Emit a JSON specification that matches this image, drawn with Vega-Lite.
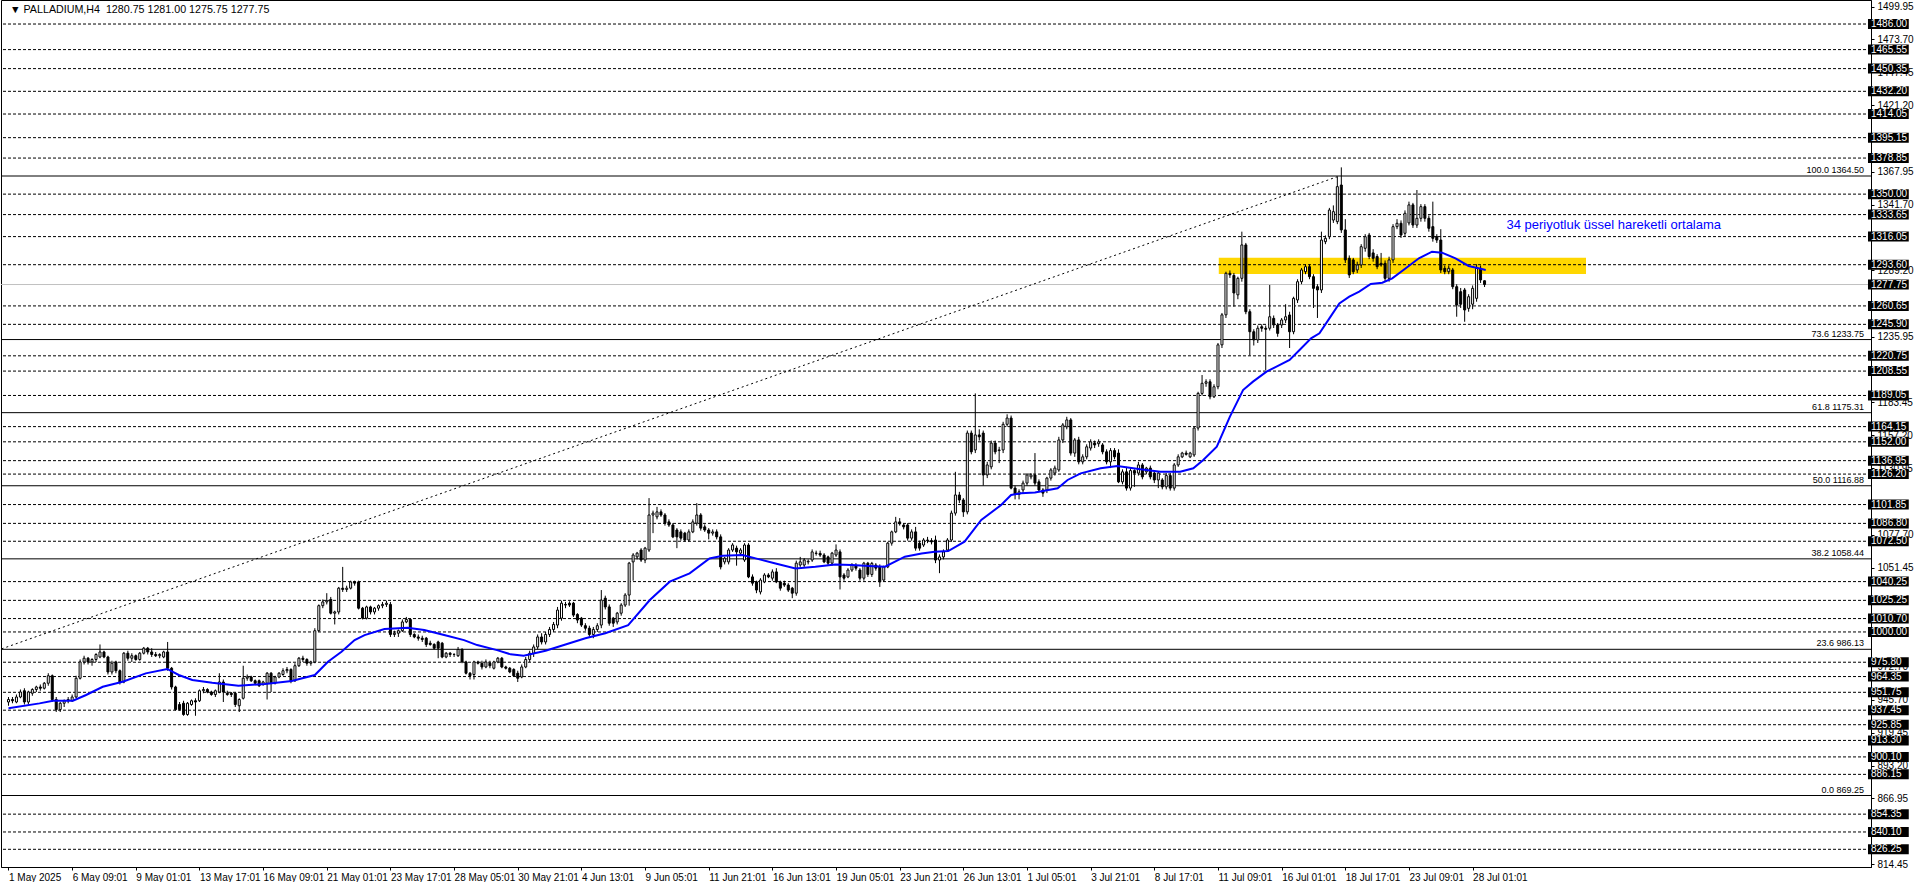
{
"$schema":"https://vega.github.io/schema/vega-lite/v6.json",
"width":1870,"height":867,"padding":0,"background":"white",
"config":{"view":{"stroke":"black","strokeWidth":1},"font":"Liberation Sans",
"axis":{"labelFont":"Liberation Sans","labelFontSize":10,"labelColor":"#000","domainColor":"#000","tickColor":"#000","tickSize":3,"grid":false,"labelOverlap":false,"labelFlush":false,"labelBound":false,"zindex":0},
"axisX":{"labelAlign":"left","labelPadding":2,"labelBaseline":"top"},
"axisY":{"labelPadding":3,"labelBaseline":"middle"}},
"datasets":{
"zone":[{"i1":304.2,"i2":396.5,"v1":1286.2,"v2":1299.2}],
"lv":[{"v":1486.00,"lab":"1486.00","k":"d"},{"v":1465.55,"lab":"1465.55","k":"d"},{"v":1450.35,"lab":"1450.35","k":"d"},{"v":1432.20,"lab":"1432.20","k":"d"},{"v":1414.05,"lab":"1414.05","k":"d"},{"v":1395.15,"lab":"1395.15","k":"d"},{"v":1378.85,"lab":"1378.85","k":"d"},{"v":1350.00,"lab":"1350.00","k":"d"},{"v":1333.65,"lab":"1333.65","k":"d"},{"v":1316.05,"lab":"1316.05","k":"d"},{"v":1293.60,"lab":"1293.60","k":"d"},{"v":1277.75,"lab":"1277.75","k":"p"},{"v":1260.65,"lab":"1260.65","k":"d"},{"v":1245.90,"lab":"1245.90","k":"d"},{"v":1220.75,"lab":"1220.75","k":"d"},{"v":1208.55,"lab":"1208.55","k":"d"},{"v":1189.05,"lab":"1189.05","k":"d"},{"v":1164.15,"lab":"1164.15","k":"d"},{"v":1152.00,"lab":"1152.00","k":"d"},{"v":1136.95,"lab":"1136.95","k":"d"},{"v":1126.20,"lab":"1126.20","k":"d"},{"v":1101.85,"lab":"1101.85","k":"d"},{"v":1086.80,"lab":"1086.80","k":"d"},{"v":1072.50,"lab":"1072.50","k":"d"},{"v":1040.25,"lab":"1040.25","k":"d"},{"v":1025.25,"lab":"1025.25","k":"d"},{"v":1010.70,"lab":"1010.70","k":"d"},{"v":1000.00,"lab":"1000.00","k":"d"},{"v":975.80,"lab":"975.80","k":"d"},{"v":964.35,"lab":"964.35","k":"d"},{"v":951.75,"lab":"951.75","k":"d"},{"v":937.45,"lab":"937.45","k":"d"},{"v":925.85,"lab":"925.85","k":"d"},{"v":913.30,"lab":"913.30","k":"d"},{"v":900.10,"lab":"900.10","k":"d"},{"v":886.15,"lab":"886.15","k":"d"},{"v":854.35,"lab":"854.35","k":"d"},{"v":840.10,"lab":"840.10","k":"d"},{"v":826.25,"lab":"826.25","k":"d"}],
"fib":[{"v":1364.50,"lab":"100.0 1364.50"},{"v":1233.75,"lab":"73.6 1233.75"},{"v":1175.31,"lab":"61.8 1175.31"},{"v":1116.88,"lab":"50.0 1116.88"},{"v":1058.44,"lab":"38.2 1058.44"},{"v":986.13,"lab":"23.6 986.13"},{"v":869.25,"lab":"0.0 869.25"}],
"trend":[{"i":-106,"v":869.25},{"i":334.5,"v":1364.5}],
"notes":[{"i":376.5,"v":1325.3,"t":"34 periyotluk üssel hareketli ortalama","k":"b"}],
"head":[{"i":0.375,"v":1497.2,"t":"▼ PALLADIUM,H4\u00a0 1280.75 1281.00 1275.75 1277.75"}],
"ma":[{"i":0,"v":939},{"i":7.8,"v":942.9},{"i":11.2,"v":945},{"i":16.2,"v":945},{"i":19.5,"v":949.6},{"i":23.7,"v":956.2},{"i":28.7,"v":960.2},{"i":34.5,"v":966.9},{"i":39.9,"v":970.4},{"i":42.8,"v":965.6},{"i":46.2,"v":961.6},{"i":51.2,"v":959.4},{"i":57.8,"v":957},{"i":64.5,"v":958.4},{"i":71.2,"v":960.8},{"i":77,"v":965.6},{"i":80.3,"v":976.2},{"i":83.7,"v":984.2},{"i":87,"v":993.5},{"i":89.5,"v":997.5},{"i":94.5,"v":1002.3},{"i":100.3,"v":1003.4},{"i":104.5,"v":1001.5},{"i":109.5,"v":997.5},{"i":114.5,"v":993.5},{"i":117.8,"v":989.5},{"i":122.8,"v":985.5},{"i":126.2,"v":982.1},{"i":129.5,"v":981},{"i":135,"v":985},{"i":140,"v":990},{"i":145,"v":995},{"i":150,"v":999},{"i":155.75,"v":1005.5},{"i":161.2,"v":1025.5},{"i":166.2,"v":1040.2},{"i":171.2,"v":1046.8},{"i":176.2,"v":1058.8},{"i":179.5,"v":1061},{"i":184.5,"v":1061.5},{"i":187.8,"v":1058.8},{"i":192.8,"v":1054.8},{"i":197.8,"v":1050.8},{"i":202.8,"v":1052.2},{"i":207.8,"v":1054},{"i":212,"v":1053.5},{"i":216.2,"v":1052.7},{"i":220.3,"v":1052.2},{"i":225.3,"v":1060.2},{"i":229.5,"v":1062.8},{"i":232.8,"v":1064.2},{"i":236.2,"v":1064.7},{"i":240.3,"v":1072.2},{"i":244.5,"v":1089.5},{"i":249.5,"v":1101.5},{"i":252,"v":1109.5},{"i":254.5,"v":1110.8},{"i":258,"v":1111.5},{"i":263.7,"v":1114.8},{"i":266.2,"v":1121.5},{"i":269.5,"v":1126.8},{"i":274.5,"v":1130.8},{"i":278.7,"v":1132.7},{"i":284.5,"v":1130},{"i":289.5,"v":1128.1},{"i":294.5,"v":1128.1},{"i":297.8,"v":1130.8},{"i":300.3,"v":1137.5},{"i":303.7,"v":1148.1},{"i":307,"v":1172.1},{"i":310.3,"v":1193.4},{"i":312.8,"v":1200.1},{"i":316.2,"v":1208.1},{"i":318.7,"v":1212.1},{"i":322,"v":1217.4},{"i":324.5,"v":1225.4},{"i":327.4,"v":1234.7},{"i":329.5,"v":1238.7},{"i":332,"v":1250.7},{"i":334.5,"v":1262.7},{"i":337,"v":1268.1},{"i":339.5,"v":1272.1},{"i":342.4,"v":1278.2},{"i":345.3,"v":1279.2},{"i":347.8,"v":1282.7},{"i":351.2,"v":1290.7},{"i":354.5,"v":1298.7},{"i":357.8,"v":1304},{"i":360.3,"v":1303.2},{"i":363.7,"v":1298.7},{"i":367,"v":1292.6},{"i":369.5,"v":1290.7},{"i":371.3,"v":1289.4}],
"cd":[
{"i":0,"o":944,"h":948,"l":941,"c":946},{"i":1,"o":946,"h":948,"l":943,"c":945},{"i":2,"o":944,"h":950,"l":943,"c":948},{"i":3,"o":948,"h":954,"l":947,"c":952},{"i":4,"o":953,"h":955,"l":942,"c":944},{"i":5,"o":944,"h":953,"l":942,"c":952},{"i":6,"o":951,"h":955,"l":949,"c":954},{"i":7,"o":954,"h":957,"l":952,"c":956},{"i":8,"o":956,"h":958,"l":953,"c":955},{"i":9,"o":955,"h":960,"l":954,"c":959},
{"i":10,"o":959,"h":967,"l":957,"c":965},{"i":11,"o":965,"h":966,"l":944,"c":946},{"i":12,"o":946,"h":948,"l":936,"c":938},{"i":13,"o":938,"h":944,"l":936,"c":943},{"i":14,"o":943,"h":946,"l":940,"c":945},{"i":15,"o":945,"h":948,"l":943,"c":946},{"i":16,"o":945,"h":950,"l":944,"c":948},{"i":17,"o":948,"h":965,"l":947,"c":963},{"i":18,"o":963,"h":978,"l":962,"c":976},{"i":19,"o":976,"h":981,"l":974,"c":979},
{"i":20,"o":979,"h":980,"l":974,"c":976},{"i":21,"o":976,"h":979,"l":973,"c":978},{"i":22,"o":978,"h":983,"l":976,"c":982},{"i":23,"o":980,"h":990,"l":979,"c":984},{"i":24,"o":984,"h":985,"l":979,"c":980},{"i":25,"o":980,"h":981,"l":966,"c":968},{"i":26,"o":968,"h":977,"l":966,"c":975},{"i":27,"o":976,"h":977,"l":967,"c":969},{"i":28,"o":969,"h":970,"l":958,"c":960},{"i":29,"o":960,"h":984,"l":959,"c":983},
{"i":30,"o":983,"h":985,"l":977,"c":979},{"i":31,"o":979,"h":983,"l":976,"c":981},{"i":32,"o":981,"h":982,"l":977,"c":978},{"i":33,"o":978,"h":984,"l":977,"c":983},{"i":34,"o":983,"h":988,"l":982,"c":987},{"i":35,"o":987,"h":988,"l":982,"c":984},{"i":36,"o":984,"h":987,"l":980,"c":982},{"i":37,"o":982,"h":984,"l":980,"c":981},{"i":38,"o":981,"h":983,"l":979,"c":982},{"i":39,"o":980,"h":985,"l":979,"c":984},
{"i":40,"o":984,"h":992,"l":969,"c":971},{"i":41,"o":971,"h":972,"l":954,"c":956},{"i":42,"o":956,"h":957,"l":937,"c":938},{"i":43,"o":942,"h":944,"l":937,"c":938},{"i":44,"o":943,"h":945,"l":933,"c":934},{"i":45,"o":934,"h":944,"l":933,"c":943},{"i":46,"o":942,"h":946,"l":941,"c":945},{"i":47,"o":945,"h":947,"l":933,"c":944},{"i":48,"o":945,"h":954,"l":944,"c":953},{"i":49,"o":953,"h":956,"l":951,"c":954},
{"i":50,"o":954,"h":955,"l":951,"c":952},{"i":51,"o":952,"h":953,"l":949,"c":950},{"i":52,"o":950,"h":954,"l":948,"c":953},{"i":53,"o":952,"h":967,"l":951,"c":960},{"i":54,"o":960,"h":962,"l":944,"c":952},{"i":55,"o":951,"h":953,"l":949,"c":950},{"i":56,"o":951,"h":952,"l":948,"c":950},{"i":57,"o":951,"h":952,"l":940,"c":942},{"i":58,"o":941,"h":947,"l":936,"c":946},{"i":59,"o":947,"h":973,"l":946,"c":963},
{"i":60,"o":963,"h":966,"l":961,"c":964},{"i":61,"o":964,"h":965,"l":960,"c":961},{"i":62,"o":961,"h":962,"l":958,"c":959},{"i":63,"o":961,"h":962,"l":956,"c":957},{"i":64,"o":958,"h":961,"l":957,"c":960},{"i":65,"o":959,"h":968,"l":946,"c":967},{"i":66,"o":967,"h":968,"l":952,"c":959},{"i":67,"o":959,"h":965,"l":958,"c":964},{"i":68,"o":964,"h":968,"l":963,"c":967},{"i":69,"o":966,"h":971,"l":965,"c":969},
{"i":70,"o":969,"h":972,"l":967,"c":970},{"i":71,"o":970,"h":971,"l":959,"c":961},{"i":72,"o":961,"h":975,"l":960,"c":973},{"i":73,"o":973,"h":980,"l":972,"c":979},{"i":74,"o":979,"h":981,"l":976,"c":978},{"i":75,"o":978,"h":979,"l":973,"c":975},{"i":76,"o":975,"h":977,"l":973,"c":976},{"i":77,"o":976,"h":1003,"l":975,"c":1001},{"i":78,"o":1001,"h":1022,"l":1000,"c":1021},{"i":79,"o":1021,"h":1026,"l":1019,"c":1024},
{"i":80,"o":1024,"h":1031,"l":1022,"c":1025},{"i":81,"o":1026,"h":1028,"l":1014,"c":1015},{"i":82,"o":1015,"h":1017,"l":1006,"c":1016},{"i":83,"o":1016,"h":1036,"l":1014,"c":1035},{"i":84,"o":1035,"h":1052,"l":1032,"c":1034},{"i":85,"o":1034,"h":1037,"l":1032,"c":1035},{"i":86,"o":1035,"h":1041,"l":1034,"c":1040},{"i":87,"o":1040,"h":1041,"l":1037,"c":1039},{"i":88,"o":1040,"h":1041,"l":1018,"c":1019},{"i":89,"o":1019,"h":1020,"l":1010,"c":1011},
{"i":90,"o":1011,"h":1021,"l":1010,"c":1020},{"i":91,"o":1020,"h":1021,"l":1014,"c":1016},{"i":92,"o":1016,"h":1020,"l":1014,"c":1019},{"i":93,"o":1019,"h":1022,"l":1017,"c":1021},{"i":94,"o":1021,"h":1024,"l":1019,"c":1022},{"i":95,"o":1022,"h":1025,"l":1020,"c":1023},{"i":96,"o":1022,"h":1024,"l":996,"c":998},{"i":97,"o":998,"h":1001,"l":996,"c":999},{"i":98,"o":999,"h":1002,"l":996,"c":1001},{"i":99,"o":1001,"h":1010,"l":1000,"c":1008},
{"i":100,"o":1008,"h":1012,"l":1007,"c":1010},{"i":101,"o":1010,"h":1011,"l":996,"c":998},{"i":102,"o":998,"h":999,"l":995,"c":996},{"i":103,"o":996,"h":998,"l":993,"c":995},{"i":104,"o":995,"h":997,"l":992,"c":994},{"i":105,"o":995,"h":996,"l":988,"c":990},{"i":106,"o":991,"h":993,"l":989,"c":990},{"i":107,"o":990,"h":991,"l":986,"c":987},{"i":108,"o":992,"h":993,"l":979,"c":987},{"i":109,"o":991,"h":992,"l":979,"c":980},
{"i":110,"o":980,"h":984,"l":979,"c":983},{"i":111,"o":983,"h":984,"l":980,"c":982},{"i":112,"o":982,"h":983,"l":980,"c":982},{"i":113,"o":981,"h":988,"l":980,"c":986},{"i":114,"o":986,"h":987,"l":975,"c":976},{"i":115,"o":976,"h":977,"l":966,"c":967},{"i":116,"o":967,"h":968,"l":962,"c":965},{"i":117,"o":966,"h":977,"l":962,"c":976},{"i":118,"o":976,"h":977,"l":974,"c":975},{"i":119,"o":975,"h":977,"l":970,"c":972},
{"i":120,"o":972,"h":978,"l":971,"c":976},{"i":121,"o":975,"h":977,"l":971,"c":973},{"i":122,"o":971,"h":977,"l":970,"c":976},{"i":123,"o":976,"h":980,"l":975,"c":979},{"i":124,"o":979,"h":980,"l":971,"c":972},{"i":125,"o":972,"h":973,"l":970,"c":971},{"i":126,"o":971,"h":972,"l":967,"c":968},{"i":127,"o":970,"h":971,"l":964,"c":965},{"i":128,"o":967,"h":969,"l":960,"c":963},{"i":129,"o":964,"h":974,"l":963,"c":972},
{"i":130,"o":972,"h":980,"l":971,"c":978},{"i":131,"o":978,"h":985,"l":976,"c":983},{"i":132,"o":983,"h":990,"l":980,"c":988},{"i":133,"o":988,"h":998,"l":986,"c":996},{"i":134,"o":996,"h":999,"l":990,"c":992},{"i":135,"o":992,"h":1000,"l":990,"c":998},{"i":136,"o":998,"h":1004,"l":996,"c":1002},{"i":137,"o":1002,"h":1008,"l":1000,"c":1006},{"i":138,"o":1005.5,"h":1020,"l":1003,"c":1017.5},{"i":139,"o":1011,"h":1025,"l":1009,"c":1023},
{"i":140,"o":1022,"h":1024,"l":1019,"c":1021.5},{"i":141,"o":1023,"h":1024.5,"l":1020,"c":1021.5},{"i":142,"o":1023,"h":1024,"l":1012,"c":1013.5},{"i":143,"o":1014,"h":1015,"l":1007,"c":1009.5},{"i":144,"o":1011,"h":1012,"l":1004,"c":1005.5},{"i":145,"o":1005,"h":1007,"l":1001,"c":1003},{"i":146,"o":1003,"h":1005,"l":996,"c":998},{"i":147,"o":998,"h":1004,"l":995,"c":1002},{"i":148,"o":1002,"h":1007,"l":1000,"c":1005},{"i":149,"o":1005.5,"h":1033.5,"l":1003,"c":1025.5},
{"i":150,"o":1027,"h":1029,"l":1018,"c":1020},{"i":151,"o":1020,"h":1022,"l":1005,"c":1007},{"i":152,"o":1011,"h":1012,"l":1004,"c":1007},{"i":153,"o":1008,"h":1016,"l":1006,"c":1015},{"i":154,"o":1015,"h":1023,"l":1013,"c":1021.5},{"i":155,"o":1021.5,"h":1031,"l":1020,"c":1029.5},{"i":156,"o":1029.5,"h":1056,"l":1021,"c":1055},{"i":157,"o":1056,"h":1063,"l":1041,"c":1061.5},{"i":158,"o":1060,"h":1064,"l":1058,"c":1063},{"i":159,"o":1065.5,"h":1067,"l":1056,"c":1057.5},
{"i":160,"o":1057.5,"h":1068,"l":1055,"c":1067},{"i":161,"o":1065.5,"h":1107,"l":1064,"c":1093.5},{"i":162,"o":1093.5,"h":1097,"l":1079,"c":1095},{"i":163,"o":1092,"h":1100,"l":1090,"c":1096},{"i":164,"o":1096,"h":1098,"l":1092,"c":1093.5},{"i":165,"o":1093.5,"h":1095,"l":1085,"c":1087},{"i":166,"o":1088,"h":1090,"l":1084,"c":1085.5},{"i":167,"o":1085.5,"h":1087,"l":1075,"c":1076},{"i":168,"o":1081.5,"h":1083,"l":1067,"c":1076},{"i":169,"o":1080,"h":1082,"l":1073,"c":1075},
{"i":170,"o":1079,"h":1080,"l":1072,"c":1073.5},{"i":171,"o":1073.5,"h":1082,"l":1072,"c":1080},{"i":172,"o":1080,"h":1090,"l":1079,"c":1088},{"i":173,"o":1087,"h":1103,"l":1085,"c":1093.5},{"i":174,"o":1093.5,"h":1095,"l":1081,"c":1083},{"i":175,"o":1084,"h":1086,"l":1080,"c":1081.5},{"i":176,"o":1081.5,"h":1083,"l":1074,"c":1079},{"i":177,"o":1079,"h":1082,"l":1077,"c":1080},{"i":178,"o":1080,"h":1082,"l":1074,"c":1076},{"i":179,"o":1076,"h":1078,"l":1050,"c":1052},
{"i":180,"o":1056,"h":1060,"l":1054,"c":1059},{"i":181,"o":1056,"h":1067,"l":1054,"c":1065.5},{"i":182,"o":1065.5,"h":1071,"l":1064,"c":1069.5},{"i":183,"o":1067,"h":1069,"l":1053,"c":1064},{"i":184,"o":1063,"h":1067,"l":1061,"c":1065.5},{"i":185,"o":1057.5,"h":1071,"l":1056,"c":1069.5},{"i":186,"o":1069.5,"h":1071,"l":1043,"c":1044},{"i":187,"o":1044,"h":1046,"l":1037,"c":1039},{"i":188,"o":1040,"h":1041,"l":1031,"c":1033.5},{"i":189,"o":1032,"h":1043,"l":1030,"c":1041.5},
{"i":190,"o":1040,"h":1047,"l":1039,"c":1045.5},{"i":191,"o":1045.5,"h":1047,"l":1043,"c":1044},{"i":192,"o":1043,"h":1050,"l":1041,"c":1048},{"i":193,"o":1048,"h":1051,"l":1039,"c":1040},{"i":194,"o":1040,"h":1041,"l":1033,"c":1035},{"i":195,"o":1039,"h":1041,"l":1036,"c":1037.5},{"i":196,"o":1037.5,"h":1039,"l":1032,"c":1033.5},{"i":197,"o":1035,"h":1036,"l":1027,"c":1031},{"i":198,"o":1031,"h":1057,"l":1029,"c":1055},{"i":199,"o":1053.5,"h":1060,"l":1052,"c":1056},
{"i":200,"o":1053.5,"h":1059,"l":1052,"c":1057.5},{"i":201,"o":1056,"h":1058,"l":1054,"c":1056.5},{"i":202,"o":1057.5,"h":1066,"l":1056,"c":1064},{"i":203,"o":1063,"h":1065,"l":1061,"c":1062.8},{"i":204,"o":1062.8,"h":1065,"l":1060,"c":1061.5},{"i":205,"o":1061.5,"h":1063,"l":1055,"c":1056},{"i":206,"o":1060,"h":1061,"l":1053,"c":1055},{"i":207,"o":1055,"h":1064,"l":1053,"c":1063},{"i":208,"o":1061.5,"h":1070,"l":1060,"c":1065.5},{"i":209,"o":1064,"h":1066,"l":1034,"c":1044},
{"i":210,"o":1045.5,"h":1047,"l":1041,"c":1043},{"i":211,"o":1044,"h":1051,"l":1043,"c":1049.5},{"i":212,"o":1049.5,"h":1055,"l":1048,"c":1053.5},{"i":213,"o":1053,"h":1055,"l":1049,"c":1051},{"i":214,"o":1049.5,"h":1051,"l":1041,"c":1043},{"i":215,"o":1043,"h":1056,"l":1041,"c":1055},{"i":216,"o":1055,"h":1056,"l":1044,"c":1046},{"i":217,"o":1046,"h":1056,"l":1044,"c":1054.8},{"i":218,"o":1053.5,"h":1055,"l":1049,"c":1051},{"i":219,"o":1052,"h":1054,"l":1036,"c":1040},
{"i":220,"o":1041.5,"h":1053,"l":1040,"c":1052},{"i":221,"o":1052,"h":1072,"l":1051,"c":1071},{"i":222,"o":1071,"h":1081,"l":1069,"c":1080},{"i":223,"o":1080,"h":1092,"l":1079,"c":1088},{"i":224,"o":1088,"h":1091,"l":1085,"c":1086.5},{"i":225,"o":1085.5,"h":1087,"l":1082,"c":1084},{"i":226,"o":1085.5,"h":1087,"l":1073,"c":1075},{"i":227,"o":1075,"h":1082,"l":1073,"c":1080},{"i":228,"o":1080,"h":1084,"l":1065,"c":1067},{"i":229,"o":1071,"h":1073,"l":1065,"c":1067},
{"i":230,"o":1069.5,"h":1075,"l":1068,"c":1073.5},{"i":231,"o":1073.5,"h":1076,"l":1071,"c":1073},{"i":232,"o":1073,"h":1075,"l":1070,"c":1072},{"i":233,"o":1073.5,"h":1077,"l":1055,"c":1057.5},{"i":234,"o":1057.5,"h":1062,"l":1047,"c":1060},{"i":235,"o":1060,"h":1066,"l":1058,"c":1064},{"i":236,"o":1065.5,"h":1075,"l":1064,"c":1073.5},{"i":237,"o":1073.5,"h":1097,"l":1072,"c":1095},{"i":238,"o":1095,"h":1128,"l":1093,"c":1109.5},{"i":239,"o":1109.5,"h":1112,"l":1103,"c":1105.5},
{"i":240,"o":1105.5,"h":1107,"l":1092,"c":1096},{"i":241,"o":1096,"h":1161,"l":1094,"c":1159},{"i":242,"o":1159,"h":1161,"l":1142,"c":1144},{"i":243,"o":1145.5,"h":1190.7,"l":1143,"c":1157.5},{"i":244,"o":1157.5,"h":1162,"l":1153,"c":1156},{"i":245,"o":1159,"h":1161,"l":1117,"c":1125.5},{"i":246,"o":1125.5,"h":1136,"l":1123,"c":1133.5},{"i":247,"o":1132,"h":1153,"l":1130,"c":1151},{"i":248,"o":1151,"h":1153,"l":1142,"c":1144},{"i":249,"o":1145,"h":1148,"l":1135,"c":1145.5},
{"i":250,"o":1145.5,"h":1168,"l":1143,"c":1166},{"i":251,"o":1166,"h":1174,"l":1164,"c":1171},{"i":252,"o":1171,"h":1173,"l":1114,"c":1115},{"i":253,"o":1115,"h":1117,"l":1106,"c":1110},{"i":254,"o":1110,"h":1114,"l":1106,"c":1112},{"i":255,"o":1113.5,"h":1121,"l":1111,"c":1119},{"i":256,"o":1119,"h":1127,"l":1117,"c":1125.5},{"i":257,"o":1124,"h":1127,"l":1122,"c":1125.5},{"i":258,"o":1125.5,"h":1143,"l":1117,"c":1119},{"i":259,"o":1120,"h":1122,"l":1112,"c":1113.5},
{"i":260,"o":1113.5,"h":1115,"l":1108,"c":1111},{"i":261,"o":1113.5,"h":1124,"l":1111,"c":1123},{"i":262,"o":1123,"h":1131,"l":1121,"c":1129.5},{"i":263,"o":1127,"h":1133,"l":1125,"c":1131},{"i":264,"o":1129.5,"h":1156,"l":1128,"c":1153.5},{"i":265,"o":1153.5,"h":1167,"l":1151,"c":1165.5},{"i":266,"o":1164,"h":1172,"l":1162,"c":1169.5},{"i":267,"o":1169.5,"h":1171,"l":1141,"c":1143},{"i":268,"o":1143,"h":1155,"l":1140,"c":1153.5},{"i":269,"o":1153.5,"h":1156,"l":1134,"c":1136},
{"i":270,"o":1136,"h":1142,"l":1134,"c":1140},{"i":271,"o":1140,"h":1150,"l":1138,"c":1148},{"i":272,"o":1147,"h":1154,"l":1145,"c":1152},{"i":273,"o":1151,"h":1153,"l":1147,"c":1149.5},{"i":274,"o":1150.5,"h":1154,"l":1148,"c":1152},{"i":275,"o":1149.5,"h":1151,"l":1142,"c":1144},{"i":276,"o":1144,"h":1146,"l":1134,"c":1136},{"i":277,"o":1136,"h":1147,"l":1131,"c":1145},{"i":278,"o":1145,"h":1147,"l":1138,"c":1140},{"i":279,"o":1143,"h":1146,"l":1119,"c":1120},
{"i":280,"o":1120,"h":1130,"l":1118,"c":1128},{"i":281,"o":1128,"h":1132,"l":1113,"c":1115},{"i":282,"o":1115,"h":1131,"l":1113,"c":1129},{"i":283,"o":1129,"h":1130,"l":1116,"c":1127},{"i":284,"o":1127,"h":1136,"l":1125,"c":1133.5},{"i":285,"o":1133.5,"h":1135,"l":1122,"c":1124},{"i":286,"o":1128,"h":1132,"l":1126,"c":1131},{"i":287,"o":1131,"h":1133,"l":1122,"c":1124},{"i":288,"o":1127,"h":1129,"l":1119,"c":1121.5},{"i":289,"o":1121.5,"h":1128,"l":1115,"c":1127},
{"i":290,"o":1121.5,"h":1123,"l":1114,"c":1116},{"i":291,"o":1116,"h":1127,"l":1114,"c":1125},{"i":292,"o":1125,"h":1127,"l":1113,"c":1115},{"i":293,"o":1115,"h":1135,"l":1113,"c":1133.5},{"i":294,"o":1133.5,"h":1142,"l":1132,"c":1140},{"i":295,"o":1140,"h":1144,"l":1139,"c":1143},{"i":296,"o":1143,"h":1145,"l":1141,"c":1142},{"i":297,"o":1140,"h":1144,"l":1139,"c":1143},{"i":298,"o":1141.5,"h":1164,"l":1140,"c":1163},{"i":299,"o":1163,"h":1192,"l":1161,"c":1190.7},
{"i":300,"o":1190.7,"h":1205.4,"l":1189,"c":1198.8},{"i":301,"o":1198.8,"h":1202,"l":1196,"c":1200},{"i":302,"o":1200,"h":1202,"l":1186,"c":1188},{"i":303,"o":1188,"h":1198,"l":1187,"c":1196},{"i":304,"o":1196,"h":1231,"l":1194,"c":1229.5},{"i":305,"o":1229.5,"h":1255,"l":1227,"c":1253.5},{"i":306,"o":1253.5,"h":1288,"l":1251,"c":1286.7},{"i":307,"o":1286.7,"h":1289,"l":1283,"c":1285.5},{"i":308,"o":1285,"h":1287,"l":1260,"c":1271},{"i":309,"o":1269.5,"h":1284,"l":1266,"c":1282.7},
{"i":310,"o":1282.7,"h":1320,"l":1280,"c":1309.4},{"i":311,"o":1309.4,"h":1311,"l":1254,"c":1256},{"i":312,"o":1256,"h":1258,"l":1221,"c":1240},{"i":313,"o":1240,"h":1242,"l":1229,"c":1233.5},{"i":314,"o":1233.5,"h":1245,"l":1231,"c":1242.8},{"i":315,"o":1244,"h":1246,"l":1240,"c":1242.8},{"i":316,"o":1242.8,"h":1245,"l":1209.4,"c":1242},{"i":317,"o":1242.8,"h":1277.4,"l":1241,"c":1252},{"i":318,"o":1250.7,"h":1253,"l":1243,"c":1245.4},{"i":319,"o":1245.4,"h":1247,"l":1236,"c":1238.7},
{"i":320,"o":1245.4,"h":1251,"l":1243,"c":1249.4},{"i":321,"o":1249.4,"h":1262,"l":1247,"c":1252},{"i":322,"o":1253.4,"h":1256,"l":1227,"c":1240},{"i":323,"o":1240,"h":1268,"l":1238,"c":1266.7},{"i":324,"o":1265.4,"h":1282,"l":1263,"c":1280},{"i":325,"o":1280,"h":1291,"l":1278,"c":1289.4},{"i":326,"o":1288,"h":1294,"l":1286,"c":1292},{"i":327,"o":1292,"h":1294,"l":1282,"c":1284},{"i":328,"o":1284,"h":1286,"l":1259,"c":1274.7},{"i":329,"o":1276,"h":1278,"l":1251,"c":1273.4},
{"i":330,"o":1273.4,"h":1320,"l":1271,"c":1313.3},{"i":331,"o":1312,"h":1317,"l":1310,"c":1314.7},{"i":332,"o":1316,"h":1339,"l":1314,"c":1337.3},{"i":333,"o":1329.3,"h":1341,"l":1327,"c":1336},{"i":334,"o":1328,"h":1364,"l":1326,"c":1356},{"i":335,"o":1357.3,"h":1371.4,"l":1319,"c":1321.4},{"i":336,"o":1321.4,"h":1330,"l":1295,"c":1297.4},{"i":337,"o":1298.7,"h":1301,"l":1283,"c":1285.4},{"i":338,"o":1297.4,"h":1299,"l":1286,"c":1288},{"i":339,"o":1289.4,"h":1296,"l":1287,"c":1293.4},
{"i":340,"o":1293.4,"h":1310,"l":1291,"c":1308},{"i":341,"o":1306.7,"h":1318,"l":1304,"c":1316},{"i":342,"o":1317.3,"h":1319,"l":1298,"c":1300.1},{"i":343,"o":1303,"h":1306,"l":1296,"c":1298.7},{"i":344,"o":1300.1,"h":1302,"l":1290,"c":1292},{"i":345,"o":1294.7,"h":1303,"l":1292,"c":1293.4},{"i":346,"o":1294.7,"h":1297,"l":1280,"c":1282.7},{"i":347,"o":1282.7,"h":1300,"l":1280,"c":1297.4},{"i":348,"o":1297.4,"h":1326,"l":1295,"c":1324},{"i":349,"o":1324,"h":1330,"l":1322,"c":1326.7},
{"i":350,"o":1326.7,"h":1329,"l":1315,"c":1317.3},{"i":351,"o":1318.7,"h":1337,"l":1316,"c":1334.7},{"i":352,"o":1327,"h":1344,"l":1325,"c":1341.4},{"i":353,"o":1341.4,"h":1343,"l":1323,"c":1325.3},{"i":354,"o":1325.3,"h":1353.3,"l":1323,"c":1330.7},{"i":355,"o":1330.7,"h":1342,"l":1328,"c":1340},{"i":356,"o":1340,"h":1342,"l":1328,"c":1330.7},{"i":357,"o":1330.7,"h":1333,"l":1320,"c":1322.7},{"i":358,"o":1324,"h":1344,"l":1312,"c":1314.7},{"i":359,"o":1316,"h":1318,"l":1311,"c":1313.3},
{"i":360,"o":1313.3,"h":1322,"l":1287,"c":1289.4},{"i":361,"o":1290.7,"h":1293,"l":1286,"c":1288},{"i":362,"o":1288,"h":1293,"l":1286,"c":1290.7},{"i":363,"o":1289.4,"h":1291,"l":1274,"c":1276},{"i":364,"o":1276,"h":1278,"l":1252,"c":1261.4},{"i":365,"o":1272,"h":1275,"l":1259,"c":1262},{"i":366,"o":1273.4,"h":1275,"l":1248,"c":1257.4},{"i":367,"o":1258.7,"h":1270,"l":1256,"c":1268},{"i":368,"o":1262,"h":1277,"l":1258,"c":1274.7},{"i":369,"o":1266.7,"h":1294,"l":1264,"c":1290.7},
{"i":370,"o":1290.7,"h":1293,"l":1279,"c":1281.4},{"i":371,"o":1280.75,"h":1281,"l":1275.75,"c":1277.75}
]},
"layer":[
{"data":{"name":"zone"},"mark":{"type":"rect","color":"#FFD700"},
 "encoding":{
  "x":{"field":"i1","type":"quantitative","title":null,"scale":{"domain":[-0.625,466.875],"nice":false,"zero":false},
   "axis":{"orient":"bottom","zindex":0,"values":[0,16,32,48,64,80,96,112,128,144,160,176,192,208,224,240,256,272,288,304,320,336,352,368],
   "labelExpr":"['1 May 2025','6 May 09:01','9 May 01:01','13 May 17:01','16 May 09:01','21 May 01:01','23 May 17:01','28 May 05:01','30 May 21:01','4 Jun 13:01','9 Jun 05:01','11 Jun 21:01','16 Jun 13:01','19 Jun 05:01','23 Jun 21:01','26 Jun 13:01','1 Jul 05:01','3 Jul 21:01','8 Jul 17:01','11 Jul 09:01','16 Jul 01:01','18 Jul 17:01','23 Jul 09:01','28 Jul 01:01'][round(datum.value/16)]"}},
  "x2":{"field":"i2"},
  "y":{"field":"v1","type":"quantitative","title":null,"scale":{"domain":[812.1,1505.2],"nice":false,"zero":false},
   "axis":{"orient":"right","zindex":0,"format":".2f","values":[1499.95,1473.70,1447.45,1421.20,1367.95,1341.70,1289.20,1235.95,1183.45,1157.20,1130.95,1077.70,1051.45,972.70,945.70,919.45,893.20,866.95,814.45]}},
  "y2":{"field":"v2"}}},
{"data":{"name":"lv"},"transform":[{"filter":"datum.k=='d'"}],"mark":{"type":"rule","color":"#000","strokeWidth":1,"strokeDash":[3,2]},
 "encoding":{"y":{"field":"v","type":"quantitative","title":null}}},
{"data":{"name":"lv"},"transform":[{"filter":"datum.k=='p'"}],"mark":{"type":"rule","color":"#C0C0C0","strokeWidth":1},
 "encoding":{"y":{"field":"v","type":"quantitative","title":null}}},
{"data":{"name":"fib"},"mark":{"type":"rule","color":"#000","strokeWidth":1},
 "encoding":{"y":{"field":"v","type":"quantitative","title":null}}},
{"data":{"name":"trend"},"mark":{"type":"line","color":"#000","strokeWidth":1,"strokeDash":[2,3],"clip":true},
 "encoding":{"x":{"field":"i","type":"quantitative","title":null},"y":{"field":"v","type":"quantitative","title":null}}},
{"data":{"name":"cd"},"mark":{"type":"rule","color":"#000","strokeWidth":1},
 "encoding":{"x":{"field":"i","type":"quantitative","title":null},"y":{"field":"l","type":"quantitative","title":null},"y2":{"field":"h"}}},
{"data":{"name":"cd"},"mark":{"type":"bar","size":2,"stroke":"#000","strokeWidth":1},
 "encoding":{"x":{"field":"i","type":"quantitative","title":null},"y":{"field":"o","type":"quantitative","title":null},"y2":{"field":"c"},
  "fill":{"condition":{"test":"datum.c >= datum.o","value":"#ffffff"},"value":"#000000"}}},
{"data":{"name":"ma"},"mark":{"type":"line","color":"#0000FF","strokeWidth":2},
 "encoding":{"x":{"field":"i","type":"quantitative","title":null},"y":{"field":"v","type":"quantitative","title":null}}},
{"data":{"name":"fib"},"mark":{"type":"text","align":"right","baseline":"bottom","dy":-1,"fontSize":9,"font":"Liberation Sans","color":"#000"},
 "encoding":{"x":{"datum":466.375,"type":"quantitative"},"y":{"field":"v","type":"quantitative","title":null},"text":{"field":"lab"}}},
{"data":{"name":"notes"},"mark":{"type":"text","align":"left","baseline":"middle","fontSize":13,"font":"Liberation Sans","color":"#0000FF"},
 "encoding":{"x":{"field":"i","type":"quantitative","title":null},"y":{"field":"v","type":"quantitative","title":null},"text":{"field":"t"}}},
{"data":{"name":"head"},"mark":{"type":"text","align":"left","baseline":"middle","fontSize":10.7,"font":"Liberation Sans","color":"#000"},
 "encoding":{"x":{"field":"i","type":"quantitative","title":null},"y":{"field":"v","type":"quantitative","title":null},"text":{"field":"t"}}},
{"data":{"name":"lv"},"mark":{"type":"rect","color":"#000","yOffset":-5,"y2Offset":5,"zindex":5},
 "encoding":{"x":{"datum":467.375,"type":"quantitative"},"x2":{"datum":477.625},"y":{"field":"v","type":"quantitative","title":null},"y2":{"field":"v"}}},
{"data":{"name":"lv"},"mark":{"type":"text","align":"left","baseline":"middle","fontSize":10,"font":"Liberation Sans","color":"#fff","zindex":6},
 "encoding":{"x":{"datum":468.125,"type":"quantitative"},"y":{"field":"v","type":"quantitative","title":null},"text":{"field":"lab"}}}
]
}
